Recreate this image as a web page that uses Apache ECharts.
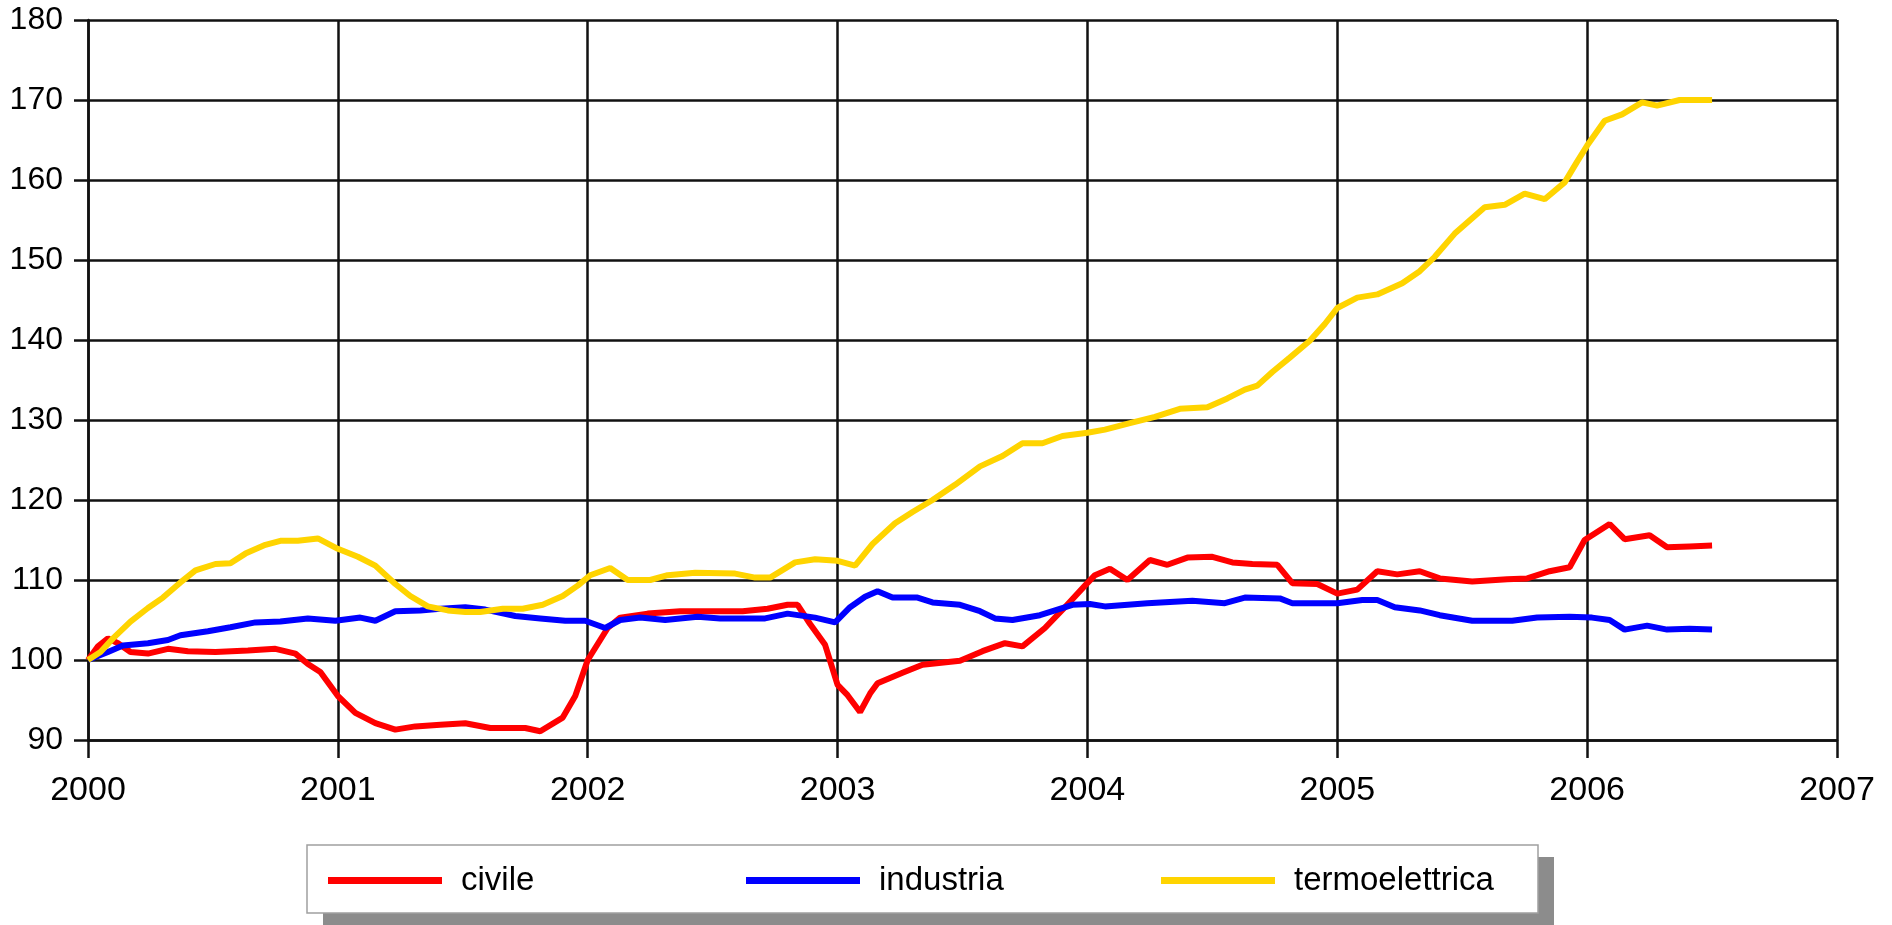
<!DOCTYPE html>
<html>
<head>
<meta charset="utf-8">
<title>civile / industria / termoelettrica</title>
<script src="https://cdn.jsdelivr.net/npm/echarts@6/dist/echarts.min.js"></script>
<style>
	body{margin:0;background:#fff;}
	#main{width:1892px;height:925px;}
</style>
</head>

<body>
<div id="main"></div>
<script>
// asse x: anni, asse y: indice (2000 = 100)
var yearTicks = [2000, 2001, 2002, 2003, 2004, 2005, 2006, 2007];
var valueTicks = [90, 100, 110, 120, 130, 140, 150, 160, 170, 180];
var seriesNames = ['civile', 'industria', 'termoelettrica'];

var civileYears = [2000.00,2000.04,2000.08,2000.12,2000.17,2000.24,2000.32,2000.40,2000.51,2000.64,2000.75,2000.83,2000.88,2000.93,
	2001.00,2001.07,2001.15,2001.23,2001.31,2001.41,2001.51,2001.61,2001.75,2001.81,2001.90,2001.95,
	2002.00,2002.04,2002.08,2002.13,2002.24,2002.37,2002.51,2002.62,2002.72,2002.80,2002.84,2002.89,2002.95,
	2003.00,2003.04,2003.09,2003.13,2003.16,2003.26,2003.34,2003.49,2003.58,2003.67,2003.74,2003.83,2003.91,2003.99,
	2004.03,2004.09,2004.16,2004.25,2004.32,2004.40,2004.50,2004.58,2004.66,2004.76,2004.82,2004.92,
	2005.00,2005.08,2005.16,2005.24,2005.33,2005.41,2005.54,2005.68,2005.76,2005.85,2005.93,2005.99,
	2006.09,2006.15,2006.25,2006.32,2006.41,2006.50];
var civileValues = [100.0,101.7,102.7,102.1,101.0,100.8,101.4,101.1,101.0,101.2,101.4,100.8,99.5,98.5,
	95.5,93.4,92.1,91.3,91.7,91.9,92.1,91.5,91.5,91.1,92.8,95.5,
	100.0,102.0,104.0,105.3,105.8,106.1,106.1,106.1,106.4,106.9,106.9,104.5,101.9,
	96.9,95.6,93.5,95.8,97.1,98.4,99.4,99.9,101.1,102.1,101.7,104.0,106.6,109.3,
	110.6,111.4,110.0,112.5,111.9,112.8,112.9,112.2,112.0,111.9,109.6,109.5,
	108.3,108.8,111.1,110.7,111.1,110.2,109.8,110.1,110.2,111.1,111.6,115.0,
	117.0,115.1,115.6,114.1,114.2,114.3];

var industriaYears = [2000.00,2000.08,2000.14,2000.24,2000.32,2000.37,2000.48,2000.57,2000.67,2000.77,2000.88,2000.99,
	2001.09,2001.15,2001.23,2001.33,2001.41,2001.51,2001.59,2001.71,2001.81,2001.91,2001.99,
	2002.07,2002.13,2002.21,2002.31,2002.44,2002.53,2002.71,2002.80,2002.91,2002.99,
	2003.05,2003.11,2003.16,2003.22,2003.32,2003.38,2003.49,2003.57,2003.63,2003.70,2003.81,2003.88,2003.94,
	2004.01,2004.07,2004.24,2004.42,2004.55,2004.63,2004.77,2004.82,
	2005.00,2005.10,2005.16,2005.23,2005.33,2005.41,2005.54,2005.70,2005.80,2005.93,
	2006.02,2006.09,2006.15,2006.24,2006.32,2006.41,2006.50];
var industriaValues = [100.0,101.0,101.8,102.1,102.5,103.1,103.6,104.1,104.7,104.8,105.2,104.9,
	105.3,104.9,106.1,106.2,106.4,106.6,106.3,105.5,105.2,104.9,104.9,
	104.0,105.0,105.3,105.0,105.4,105.2,105.2,105.8,105.3,104.7,
	106.6,107.9,108.6,107.8,107.8,107.2,106.9,106.1,105.2,105.0,105.6,106.3,106.9,
	107.0,106.7,107.1,107.4,107.1,107.8,107.7,107.1,
	107.1,107.5,107.5,106.6,106.2,105.6,104.9,104.9,105.3,105.4,
	105.3,105.0,103.8,104.3,103.8,103.9,103.8];

var termoYears = [2000.00,2000.05,2000.10,2000.17,2000.24,2000.30,2000.37,2000.43,2000.51,2000.57,2000.63,2000.71,2000.77,2000.84,2000.92,
	2001.00,2001.08,2001.15,2001.23,2001.29,2001.36,2001.44,2001.51,2001.57,2001.66,2001.74,2001.82,2001.90,2001.96,
	2002.01,2002.09,2002.16,2002.25,2002.32,2002.43,2002.59,2002.67,2002.73,2002.83,2002.91,
	2003.00,2003.07,2003.14,2003.23,2003.30,2003.38,2003.47,2003.57,2003.66,2003.74,2003.82,2003.90,
	2004.00,2004.07,2004.17,2004.27,2004.37,2004.48,2004.56,2004.63,2004.68,2004.74,2004.81,2004.89,2004.95,
	2005.00,2005.08,2005.16,2005.26,2005.33,2005.39,2005.47,2005.59,2005.67,2005.75,2005.83,2005.91,2005.96,
	2006.00,2006.07,2006.14,2006.22,2006.28,2006.37,2006.50];
var termoValues = [100.0,101.0,102.7,104.8,106.5,107.8,109.7,111.2,112.0,112.1,113.3,114.4,114.9,114.9,115.2,
	113.9,112.9,111.8,109.5,108.0,106.7,106.2,106.0,106.0,106.4,106.4,106.9,108.0,109.3,
	110.6,111.5,110.0,110.0,110.6,110.9,110.8,110.3,110.3,112.2,112.6,
	112.4,111.8,114.5,117.1,118.5,120.0,121.9,124.2,125.5,127.1,127.1,128.0,
	128.4,128.8,129.6,130.4,131.4,131.6,132.7,133.8,134.3,136.0,137.8,139.9,142.0,
	144.0,145.3,145.7,147.1,148.6,150.4,153.3,156.6,156.9,158.3,157.6,159.7,162.3,
	164.3,167.4,168.2,169.7,169.3,170.0,170.0];

function pairs(xs, ys){
	var out = [];
	for (var i = 0; i < xs.length; i++) out.push([xs[i], ys[i]]);
	return out;
}

var colors = ['#ff0000', '#0000ff', '#ffd400'];
var fontName = 'Liberation Sans, Arial, sans-serif';

var myChart = echarts.init(document.getElementById('main'));

// una legenda per voce, per tenere le posizioni del riquadro originale
var legendLeft = [328, 746, 1161];
var legends = seriesNames.map(function(name, i){
	return {
		data: [name],
		left: legendLeft[i],
		top: 864,
		padding: 0,
		icon: 'rect',
		itemWidth: 114,
		itemHeight: 7,
		selectedMode: false,
		textStyle: {color: '#000', fontSize: 33, fontFamily: fontName, padding: [0, 0, 0, 14]}
	};
});

var gridLine = {color: '#111', width: 2.5};

var option = {
	animation: false,
	color: colors,
	grid: {left: 88, right: 55, top: 20, bottom: 185, containLabel: false},
	legend: legends,
	graphic: [
		{type: 'rect', shape: {x: 323, y: 857, width: 1231, height: 68}, style: {fill: '#8c8c8c'}, z: 0},
		{type: 'rect', shape: {x: 307, y: 845, width: 1231, height: 68}, style: {fill: '#fff', stroke: '#a0a0a0', lineWidth: 1.5}, z: 1}
	],
	xAxis: {
		type: 'value',
		min: yearTicks[0],
		max: yearTicks[yearTicks.length - 1],
		interval: 1,
		axisLine: {show: true, lineStyle: gridLine},
		axisTick: {show: true, length: 18, lineStyle: gridLine},
		splitLine: {show: true, lineStyle: gridLine},
		axisLabel: {color: '#000', fontSize: 34, fontFamily: fontName, margin: 34,
			formatter: function(v){ return String(v); }}
	},
	yAxis: {
		type: 'value',
		min: valueTicks[0],
		max: valueTicks[valueTicks.length - 1],
		interval: 10,
		axisLine: {show: true, lineStyle: gridLine},
		axisTick: {show: true, length: 14, lineStyle: gridLine},
		splitLine: {show: true, lineStyle: gridLine},
		axisLabel: {color: '#000', fontSize: 32, fontFamily: fontName, margin: 25}
	},
	series: [
		{name: seriesNames[0], type: 'line', data: pairs(civileYears, civileValues), symbol: 'none', lineStyle: {width: 6, color: colors[0]}, z: 3},
		{name: seriesNames[1], type: 'line', data: pairs(industriaYears, industriaValues), symbol: 'none', lineStyle: {width: 6, color: colors[1]}, z: 3},
		{name: seriesNames[2], type: 'line', data: pairs(termoYears, termoValues), symbol: 'none', lineStyle: {width: 6, color: colors[2]}, z: 3}
	]
};
myChart.setOption(option);
</script>
</body>
</html>
